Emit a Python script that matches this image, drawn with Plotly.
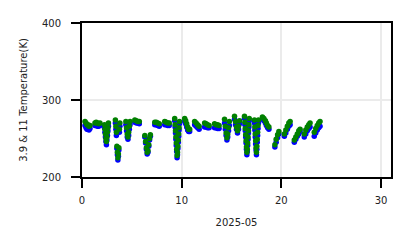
import plotly.graph_objects as go

# Day-of-month (fractional) sample times and brightness temperatures (K)
day = [
    0.3, 0.4, 0.5, 0.6, 0.7, 0.8,
    1.3, 1.42, 1.55, 1.67, 1.8,
    2.25, 2.3, 2.35, 2.4, 2.45, 2.5, 2.55, 2.6, 2.65,
    3.35, 3.4, 3.45, 3.5, 3.55, 3.6, 3.65, 3.7, 3.75, 3.8,
    4.4, 4.47, 4.54, 4.61, 4.68, 4.75, 4.82,
    5.3, 5.45, 5.6, 5.75,
    6.3, 6.38, 6.46, 6.54, 6.62, 6.7, 6.78, 6.86,
    7.3, 7.45, 7.6, 7.75,
    8.3, 8.45, 8.6, 8.75,
    9.3, 9.34, 9.38, 9.42, 9.46, 9.5, 9.54, 9.58, 9.62, 9.66, 9.7, 9.74, 9.78,
    10.3, 10.4, 10.5, 10.6, 10.7, 10.8,
    11.3, 11.45, 11.6, 11.75,
    12.3, 12.45, 12.6, 12.75,
    13.3, 13.45, 13.6, 13.75,
    14.3, 14.38, 14.46, 14.54, 14.62, 14.7, 14.78,
    15.3, 15.4, 15.5, 15.6, 15.7, 15.8,
    16.3, 16.34, 16.38, 16.42, 16.46, 16.5, 16.54, 16.58, 16.62, 16.66, 16.7, 16.74, 16.78,
    17.3, 17.34, 17.38, 17.42, 17.46, 17.5, 17.54, 17.58, 17.62, 17.66, 17.7,
    18.1, 18.25, 18.4, 18.5, 18.62, 18.75,
    19.35, 19.48, 19.62, 19.75,
    20.3, 20.45, 20.6, 20.75, 20.88,
    21.3, 21.45, 21.6, 21.75, 21.88,
    22.3, 22.45, 22.6, 22.75, 22.88,
    23.3, 23.45, 23.6, 23.75, 23.88,
]

bt11 = [
    272, 270, 268, 268, 266, 267,
    270, 271, 270, 269, 270,
    268, 262, 256, 250, 246, 252, 258, 264, 270,
    274, 266, 258, 240, 232, 225, 230, 238, 262, 270,
    272, 264, 256, 252, 258, 266, 272,
    274, 273, 272, 272,
    254, 246, 238, 232, 234, 242, 250, 255,
    271, 271, 270, 269,
    272, 271, 270, 270,
    276, 268, 260, 252, 244, 236, 228, 232, 240, 248, 256, 264, 272,
    276, 273, 269, 265, 262, 262,
    272, 270, 268, 266,
    270, 269, 268, 267,
    269, 268, 268, 267,
    275, 266, 257, 251, 256, 264, 272,
    279, 272, 265, 260, 266, 273,
    279, 271, 263, 255, 247, 239, 232, 236, 244, 252, 260, 268, 276,
    274, 265, 256, 247, 238, 232, 240, 249, 258, 267, 274,
    278, 276, 273, 270, 267, 265,
    242, 249, 255, 259,
    256, 261, 266, 270, 272,
    248, 252, 256, 260, 262,
    256, 261, 265, 268, 270,
    258, 263, 267, 270, 272,
]

bt39 = [
    267, 264, 262, 262, 261, 263,
    267, 267, 266, 266, 267,
    264, 258, 252, 246, 242, 248, 254, 260, 266,
    270, 262, 254, 237, 229, 222, 227, 235, 258, 266,
    268, 260, 252, 249, 254, 262, 268,
    271, 270, 270, 269,
    252, 244, 236, 230, 232, 240, 248, 253,
    268, 268, 267, 266,
    268, 268, 267, 267,
    273, 265, 257, 249, 241, 233, 225, 229, 237, 245, 253, 261, 269,
    272, 269, 265, 261, 259, 259,
    268, 266, 264, 262,
    265, 265, 264, 264,
    264, 264, 263, 263,
    270, 262, 254, 248, 252, 260, 267,
    275, 268, 262, 257, 262, 269,
    276, 268, 260, 252, 244, 236, 229, 233, 241, 249, 257, 265, 273,
    270, 261, 252, 243, 235, 229, 236, 245, 254, 263, 270,
    275, 273, 270, 267, 264, 262,
    239, 245, 251, 256,
    253, 257, 262, 266, 268,
    245, 249, 253, 256, 259,
    252, 256, 260, 263, 265,
    253, 257, 261, 264, 266,
]

x_ticks = [0, 10, 20, 30]
y_ticks = [200, 300, 400]

fig = go.Figure()
fig.add_trace(go.Scatter(x=day, y=bt39, mode="markers", name="3.9",
                         marker=dict(color="#0000ff", size=5.5, line=dict(width=0))))
fig.add_trace(go.Scatter(x=day, y=bt11, mode="markers", name="11",
                         marker=dict(color="#008000", size=5.5, line=dict(width=0))))

font = dict(family="DejaVu Sans", size=10, color="#222222")
fig.update_layout(
    width=411, height=248,
    margin=dict(l=82, r=20, t=23, b=71),
    paper_bgcolor="white", plot_bgcolor="white",
    showlegend=False,
    font=font,
)
fig.update_xaxes(
    range=[0, 31], tickvals=x_ticks, ticktext=[str(v) for v in x_ticks],
    showline=True, linecolor="black", linewidth=2, mirror=True,
    ticks="outside", ticklen=9, tickwidth=2, tickcolor="black",
    showgrid=True, gridcolor="#ebebeb", gridwidth=2, zeroline=False,
    title=dict(text="2025-05", font=font, standoff=14),
    ticklabelstandoff=4,
)
fig.update_yaxes(
    range=[200, 400], tickvals=y_ticks, ticktext=[str(v) for v in y_ticks],
    showline=True, linecolor="black", linewidth=2, mirror=True,
    ticks="outside", ticklen=9, tickwidth=2, tickcolor="black",
    showgrid=True, gridcolor="#ebebeb", gridwidth=2, zeroline=False,
    title=dict(text="3.9 & 11 Temperature(K)", font=font, standoff=12),
    ticklabelstandoff=8,
)
fig.write_html("out.html")
